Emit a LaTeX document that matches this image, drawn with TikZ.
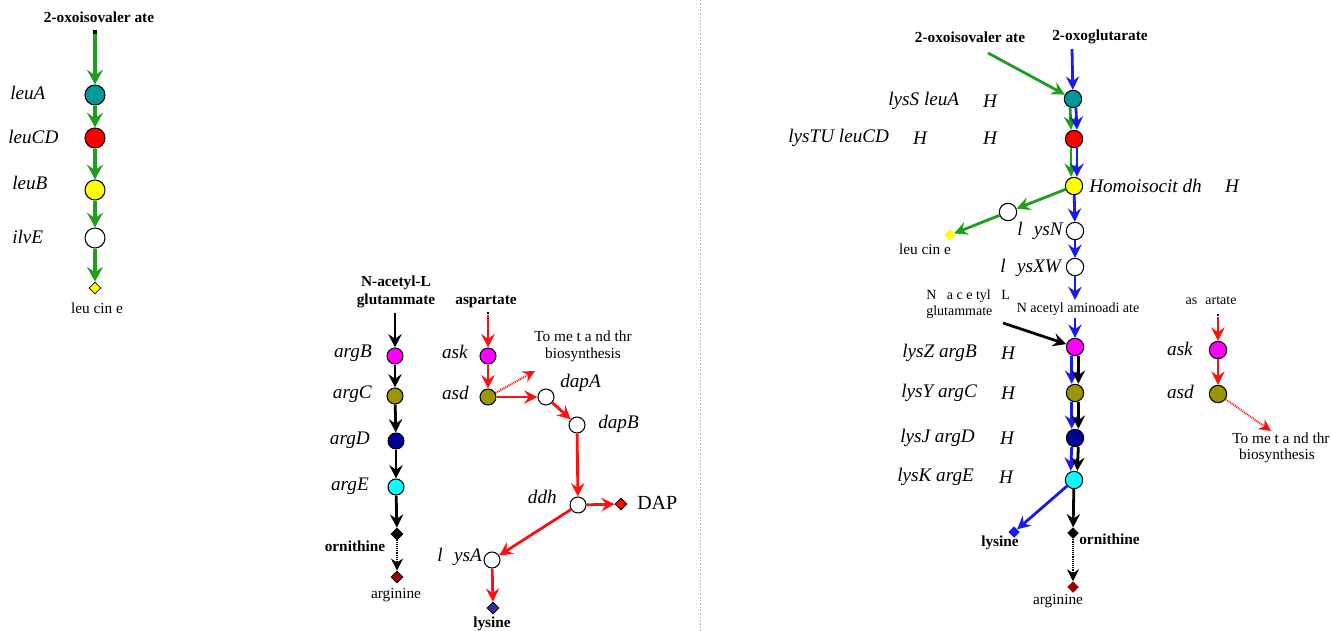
\documentclass[tikz,border=0pt]{standalone}
\usepackage{fontspec}
\setmainfont{Liberation Serif}
\usetikzlibrary{arrows.meta,shapes.geometric}
\definecolor{grn}{HTML}{1E9E1E}
\definecolor{blu}{HTML}{1A1AF0}
\definecolor{rd}{HTML}{FF1010}
\definecolor{tealc}{HTML}{009999}
\definecolor{olivec}{HTML}{9C9400}
\definecolor{navyc}{HTML}{000099}
\definecolor{dredc}{HTML}{990000}
\definecolor{slatec}{HTML}{333399}
\definecolor{magc}{HTML}{FF00FF}
\definecolor{cyanc}{HTML}{00FFFF}
\definecolor{yelc}{HTML}{FFFF00}
\definecolor{redc}{HTML}{FF0000}
\tikzset{
 gA/.style={circle,draw=black,line width=0.8pt,inner sep=0pt,minimum size=15pt},
 gB/.style={circle,draw=black,line width=0.8pt,inner sep=0pt,minimum size=12pt},
 gC/.style={circle,draw=black,line width=0.8pt,inner sep=0pt,minimum size=13pt},
 dm/.style={diamond,draw=black,line width=0.6pt,inner sep=0pt,minimum size=9pt},
 itl/.style={font=\fontsize{14.4}{16}\selectfont\itshape,inner sep=0pt},
 bfl/.style={font=\fontsize{11.5}{13}\selectfont\bfseries,inner sep=0pt},
 rml/.style={font=\fontsize{11.5}{13}\selectfont,inner sep=0pt},
 sml/.style={font=\fontsize{10.5}{12}\selectfont,inner sep=0pt},
 arr/.style={line width=2.4pt,-{Stealth[length=11pt,width=12pt,inset=4pt]}},
 marr/.style={line width=2.1pt,-{Stealth[length=10pt,width=10pt,inset=3.5pt]}},
 rarr/.style={line width=2.1pt,-{Stealth[length=10pt,width=10pt,inset=3.5pt]}},
 darr/.style={line width=1.8pt,dash pattern=on 0.7pt off 0.7pt,-{Stealth[length=9pt,width=9pt,inset=3pt]}},
 startdot/.style={rectangle,fill=black,minimum size=2.5pt,inner sep=0pt}
}
\begin{document}
\begin{tikzpicture}[x=0.75pt,y=-0.75pt]
\clip (0,0) rectangle (1331,631);
\fill[white] (0,0) rectangle (1331,631);
% divider
\draw[gray!70,line width=0.6pt,dash pattern=on 1pt off 1.5pt] (700,0) -- (700,631);

% ---------------- left panel ----------------
\node[bfl] (h1) at (99,17) {2-oxoisovaler ate};
\node[startdot] (s1) at (95,32) {};
\node[gA,fill=tealc] (leuA) at (95,95) {};
\node[gA,fill=redc] (leuCD) at (95,138) {};
\node[gA,fill=yelc] (leuB) at (95,190) {};
\node[gA,fill=white] (ilvE) at (95,238) {};
\node[dm,fill=yelc] (leu1) at (95,288) {};
\node[rml] (leu1t) at (97,308) {leu cin e};
\node[itl,anchor=west] (lA) at (10,93) {leuA};
\node[itl,anchor=west] (lCD) at (8,137) {leuCD};
\node[itl,anchor=west] (lB) at (12,183) {leuB};
\node[itl,anchor=west] (lE) at (12,237) {ilvE};
\draw[arr,grn] (s1) -- (leuA);
\draw[arr,grn] (leuA) -- (leuCD);
\draw[arr,grn] (leuCD) -- (leuB);
\draw[arr,grn] (leuB) -- (ilvE);
\draw[arr,grn] (ilvE) -- (leu1);

% ---------------- middle panel ----------------
\node[bfl,align=center] (nag) at (396,292) {N-acetyl-L\\glutammate};
\coordinate (s2) at (395,313);
\node[gB,fill=magc] (argB) at (395,356) {};
\node[gB,fill=olivec] (argC) at (395,396) {};
\node[gB,fill=navyc] (argD) at (396,441) {};
\node[gB,fill=cyanc] (argE) at (396,487) {};
\node[dm,fill=black] (orn) at (397,534) {};
\node[dm,fill=dredc] (arg) at (397,577) {};
\node[bfl] (ornt) at (355,546) {ornithine};
\node[rml] (argt) at (396,595) {arginine};
\node[itl,anchor=east] (lbB) at (372,353) {argB};
\node[itl,anchor=east] (lbC) at (372,394) {argC};
\node[itl,anchor=east] (lbD) at (370,440) {argD};
\node[itl,anchor=east] (lbE) at (369,486) {argE};
\draw[marr,black] (s2) -- (argB);
\draw[marr,black] (argB) -- (argC);
\draw[marr,black] (argC) -- (argD);
\draw[marr,black] (argD) -- (argE);
\draw[marr,black] (argE) -- (orn);
\draw[darr,black] (orn) -- (arg);

\node[bfl] (asp) at (486,302) {aspartate};
\node[startdot,minimum size=2pt] (s3) at (488,313) {};
\node[gB,fill=magc] (ask) at (488,356) {};
\node[gB,fill=olivec] (asd) at (488,397) {};
\node[gB,fill=white] (dapA) at (546,397) {};
\node[gB,fill=white] (dapB) at (577,425) {};
\node[gB,fill=white] (ddh) at (578,505) {};
\node[dm,fill=redc] (dap) at (621,504) {};
\node[gB,fill=white] (lysA) at (492,560) {};
\node[dm,fill=slatec] (lys1) at (493,608) {};
\node[font=\fontsize{15}{17}\selectfont,inner sep=0pt,anchor=west] (dapt) at (637,503) {DAP};
\node[bfl] (lys1t) at (492,624) {lysine};
\node[itl,anchor=east] (lask) at (468,352) {ask};
\node[itl,anchor=east] (lasd) at (469,393) {asd};
\node[itl,anchor=west] (ldapA) at (560,383) {dapA};
\node[itl,anchor=west] (ldapB) at (598,424) {dapB};
\node[itl,anchor=east] (lddh) at (557,497) {ddh};
\node[itl,anchor=east] (llysA) at (482,557) {l\,\, ysA};
\node[rml,align=center] (tmt1) at (583,346) {To me t a nd thr\\biosynthesis};
\coordinate (mt1) at (535,371);
\draw[marr,rd] (s3) -- (ask);
\draw[marr,rd] (ask) -- (asd);
\draw[darr,rd,line width=1.5pt] (asd) -- (mt1);
\draw[marr,rd] (asd) -- (dapA);
\draw[marr,rd] (dapA) -- (dapB);
\draw[marr,rd] (dapB) -- (ddh);
\draw[marr,rd] (ddh) -- (dap);
\draw[marr,rd] (ddh) -- (lysA);
\draw[marr,rd] (lysA) -- (lys1);

% ---------------- right panel ----------------
\node[bfl] (h2) at (970,37) {2-oxoisovaler ate};
\node[bfl] (h3) at (1100,37) {2-oxoglutarate};
\coordinate (g0) at (988,53);
\coordinate (b0) at (1072,49);
\node[gC,fill=tealc] (lysS) at (1073,99) {};
\node[gC,fill=redc] (lysTU) at (1074,139) {};
\node[gC,fill=yelc] (hic) at (1074,186) {};
\node[gC,fill=white] (wl) at (1008,212) {};
\node[dm,fill=yelc,draw=yelc,minimum size=8pt] (leu2) at (950,235) {};
\node[rml] (leu2t) at (925,249) {leu cin e};
\node[gC,fill=white] (lysN) at (1075,231) {};
\node[gC,fill=white] (lysXW) at (1075,267) {};
\coordinate (b1) at (1075,300);
\node[sml] (naa) at (1078,309) {N acetyl aminoadi ate};
\coordinate (b2) at (1075,318);
\node[sml,align=left,anchor=west] (nag2) at (926,304) {N\,\,\, a c e tyl\,\,\, L\\glutammate};
\coordinate (k0) at (1003,323);
\node[gC,fill=magc] (rB) at (1075,347) {};
\node[gC,fill=olivec] (rC) at (1075,393) {};
\node[gC,fill=navyc] (rD) at (1075,438) {};
\node[gC,fill=cyanc] (rE) at (1074,480) {};
\node[dm,fill=blu,draw=blu,minimum size=8pt] (lys2) at (1014,532) {};
\node[dm,fill=black,minimum size=8pt] (orn2) at (1073,533) {};
\node[dm,fill=dredc,draw=dredc,minimum size=8pt] (arg2) at (1073,587) {};
\node[bfl] (lys2t) at (1000,543) {lysine};
\node[bfl,anchor=west] (orn2t) at (1079,539) {ornithine};
\node[rml] (arg2t) at (1058,601) {arginine};

\node[itl,anchor=west] (r1) at (888,101) {lysS leuA};
\node[itl] (r1h) at (990,101) {H};
\node[itl,anchor=west] (r2) at (788,138) {lysTU leuCD};
\node[itl] (r2h) at (920,138) {H};
\node[itl] (r2h2) at (990,138) {H};
\node[itl,anchor=west] (r3) at (1089,186) {Homoisocit dh};
\node[itl] (r3h) at (1232,186) {H};
\node[itl,anchor=east] (r4) at (1063,231) {l\,\, ysN};
\node[itl,anchor=east] (r5) at (1061,268) {l\,\, ysXW};
\node[itl,anchor=west] (r6) at (902,353) {lysZ argB};
\node[itl] (r6h) at (1008,353) {H};
\node[itl,anchor=west] (r7) at (901,393) {lysY argC};
\node[itl] (r7h) at (1008,393) {H};
\node[itl,anchor=west] (r8) at (900,438) {lysJ argD};
\node[itl] (r8h) at (1007,438) {H};
\node[itl,anchor=west] (r9) at (897,477) {lysK argE};
\node[itl] (r9h) at (1006,477) {H};

\draw[rarr,grn] (g0) -- (lysS);
\draw[rarr,blu] (b0) -- (lysS);
\draw[rarr,grn] ([xshift=-2.2pt]lysS.south) -- ([xshift=-2.2pt]lysTU.north);
\draw[rarr,blu] ([xshift=2.2pt]lysS.south) -- ([xshift=2.2pt]lysTU.north);
\draw[rarr,grn] ([xshift=-2.2pt]lysTU.south) -- ([xshift=-2.2pt]hic.north);
\draw[rarr,blu] ([xshift=2.2pt]lysTU.south) -- ([xshift=2.2pt]hic.north);
\draw[rarr,grn] (hic) -- (wl);
\draw[rarr,grn] (wl) -- (leu2);
\draw[rarr,blu] (hic) -- (lysN);
\draw[rarr,blu] (lysN) -- (lysXW);
\draw[rarr,blu] (lysXW) -- (b1);
\draw[rarr,blu] (b2) -- (rB);
\draw[rarr,black] (k0) -- (rB);
\draw[rarr,blu] ([xshift=-2.5pt]rB.south) -- ([xshift=-2.5pt]rC.north);
\draw[rarr,black] ([xshift=2.5pt]rB.south) -- ([xshift=2.5pt]rC.north);
\draw[rarr,blu] ([xshift=-2.5pt]rC.south) -- ([xshift=-2.5pt]rD.north);
\draw[rarr,black] ([xshift=2.5pt]rC.south) -- ([xshift=2.5pt]rD.north);
\draw[rarr,blu] ([xshift=-2.5pt]rD.south) -- ([xshift=-2.5pt]rE.north);
\draw[rarr,black] ([xshift=2.5pt]rD.south) -- ([xshift=2.5pt]rE.north);
\draw[rarr,blu] (rE) -- (lys2);
\draw[rarr,black] (rE) -- (orn2);
\draw[darr,black,line width=1.5pt] (orn2) -- (arg2);

\node[sml] (asp2) at (1211,301) {as\,\, artate};
\node[startdot,minimum size=2pt] (s4) at (1218,315) {};
\node[gC,fill=magc] (ask2) at (1218,350) {};
\node[gC,fill=olivec] (asd2) at (1218,394) {};
\node[itl,anchor=east] (lask2) at (1193,349) {ask};
\node[itl,anchor=east] (lasd2) at (1194,392) {asd};
\coordinate (mt2) at (1271,431);
\node[rml,anchor=west] (tmt2) at (1232,438) {To me t a nd thr};
\node[rml] (tmt3) at (1277,456) {biosynthesis};
\draw[marr,rd,line width=1.8pt] (s4) -- (ask2);
\draw[marr,rd,line width=1.8pt] (ask2) -- (asd2);
\draw[darr,rd,line width=1.4pt] (asd2) -- (mt2);
\end{tikzpicture}
\end{document}
